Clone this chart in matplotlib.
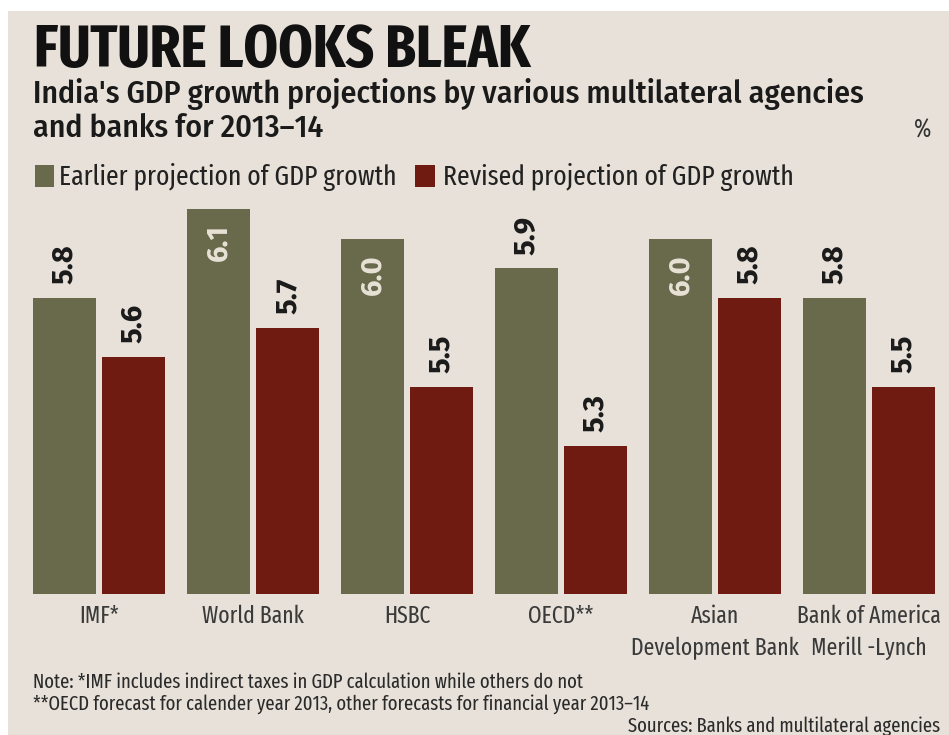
import matplotlib
matplotlib.use("Agg")
import matplotlib.pyplot as plt
from matplotlib.patches import Rectangle
import numpy as np

categories = ["IMF*", "World Bank", "HSBC", "OECD**", "Asian\nDevelopment Bank", "Bank of America\nMerill -Lynch"]
earlier = [5.8, 6.1, 6.0, 5.9, 6.0, 5.8]
revised = [5.6, 5.7, 5.5, 5.3, 5.8, 5.5]
series_names = ["Earlier projection of GDP growth", "Revised projection of GDP growth"]

BG = "#e7e1d9"
OLIVE = "#696a4c"
RED = "#6f1b11"
TXT = "#1a1a1a"
COND = ["Fira Sans Extra Condensed", "DejaVu Sans"]
SEMI = ["Fira Sans Condensed", "DejaVu Sans"]
NUM = ["Fira Sans", "DejaVu Sans"]

W, H = 949, 735
fig = plt.figure(figsize=(W / 100, H / 100), dpi=100, facecolor="white")
fig.patches.append(Rectangle((8 / W, 0), 1, 1 - 11 / H, transform=fig.transFigure,
                             facecolor=BG, edgecolor="none", zorder=-10))

def fx(px):
    return px / W

def fy(py):
    return 1 - py / H

ax_l, ax_r, ax_t, ax_b = 33, 935, 200, 594
ax = fig.add_axes([fx(ax_l), fy(ax_b), fx(ax_r - ax_l), (ax_b - ax_t) / H])
ax.set_facecolor("none")

x = np.arange(len(categories))
off = 0.225
bw = 0.41
ax.bar(x - off, earlier, bw, color=OLIVE)
ax.bar(x + off, revised, bw, color=RED)
ymin = 4.8
ppu = 296.0
ax.set_ylim(ymin, ymin + (ax_b - ax_t) / ppu)
ax.set_xlim(-off - bw / 2, len(categories) - 1 + off + bw / 2)

for spine in ax.spines.values():
    spine.set_visible(False)
ax.set_yticks([])
ax.set_xticks(x)
ax.set_xticklabels(categories, family=COND, fontsize=17, fontweight="normal",
                   color="#3a3a3a", linespacing=1.45)
ax.tick_params(axis="x", length=0, pad=8)

inside = {(0, 1), (0, 2), (0, 4)}
for si, vals in enumerate([earlier, revised]):
    for i, v in enumerate(vals):
        xc = x[i] + (-off if si == 0 else off)
        if (si, i) in inside:
            ax.annotate(f"{v:.1f}", (xc, v), xytext=(0, -11), textcoords="offset points",
                        rotation=90, ha="center", va="top", fontsize=21, fontweight="bold",
                        color="#e8e2d6", family=NUM)
        else:
            ax.annotate(f"{v:.1f}", (xc, v), xytext=(0, 10), textcoords="offset points",
                        rotation=90, ha="center", va="bottom", fontsize=21, fontweight="bold",
                        color=TXT, family=NUM)

# Titles
fig.text(fx(34), fy(67), "FUTURE LOOKS BLEAK", family=COND, fontsize=43.3, fontweight="bold",
         color="#111111", ha="left", va="baseline")
fig.text(fx(33), fy(103), "India's GDP growth projections by various multilateral agencies",
         family=SEMI, fontsize=22.8, fontweight="medium", color="#1a1a1a", ha="left", va="baseline")
fig.text(fx(33), fy(137), "and banks for 2013\u201314",
         family=SEMI, fontsize=22.8, fontweight="medium", color="#1a1a1a", ha="left", va="baseline")
fig.text(fx(931), fy(138), "%", family=COND, fontsize=18, color="#333333", ha="right", va="baseline")

# Legend
fig.patches.append(Rectangle((fx(35), fy(187)), fx(19), 22 / H, transform=fig.transFigure,
                             facecolor=OLIVE, edgecolor="none"))
fig.text(fx(59), fy(185), series_names[0], family=COND, fontsize=20, fontweight="normal",
         color="#222222", ha="left", va="baseline")
fig.patches.append(Rectangle((fx(415), fy(187)), fx(20), 22 / H, transform=fig.transFigure,
                             facecolor=RED, edgecolor="none"))
fig.text(fx(443), fy(185), series_names[1], family=COND, fontsize=20, fontweight="normal",
         color="#222222", ha="left", va="baseline")

# Notes
fig.text(fx(33), fy(688), "Note: *IMF includes indirect taxes in GDP calculation while others do not",
         family=COND, fontsize=14.6, fontweight="normal", color="#2a2a2a", ha="left", va="baseline")
fig.text(fx(33), fy(710), "**OECD forecast for calender year 2013, other forecasts for financial year 2013\u201314",
         family=COND, fontsize=14.6, fontweight="normal", color="#2a2a2a", ha="left", va="baseline")
fig.text(fx(940), fy(732), "Sources: Banks and multilateral agencies",
         family=COND, fontsize=14.6, fontweight="normal", color="#2a2a2a", ha="right", va="baseline")

fig.savefig("out.png", dpi=100, facecolor=fig.get_facecolor())
